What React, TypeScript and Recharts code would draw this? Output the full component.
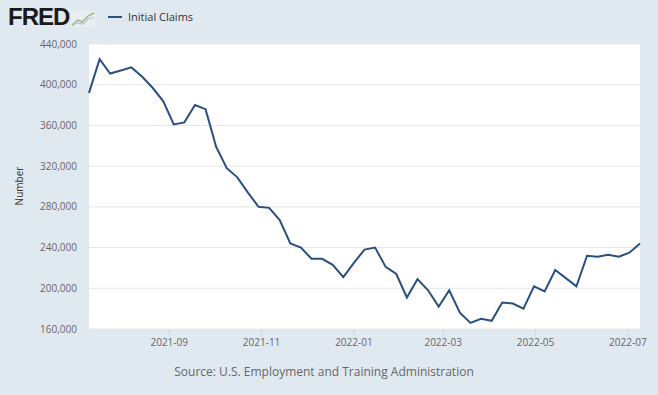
import { CartesianGrid, Line, LineChart, XAxis, YAxis } from "recharts"

// weekly, week ending Saturday
const weeks = [
  "2021-07-10", "2021-07-17", "2021-07-24", "2021-07-31", "2021-08-07", "2021-08-14",
  "2021-08-21", "2021-08-28", "2021-09-04", "2021-09-11", "2021-09-18", "2021-09-25",
  "2021-10-02", "2021-10-09", "2021-10-16", "2021-10-23", "2021-10-30", "2021-11-06",
  "2021-11-13", "2021-11-20", "2021-11-27", "2021-12-04", "2021-12-11", "2021-12-18",
  "2021-12-25", "2022-01-01", "2022-01-08", "2022-01-15", "2022-01-22", "2022-01-29",
  "2022-02-05", "2022-02-12", "2022-02-19", "2022-02-26", "2022-03-05", "2022-03-12",
  "2022-03-19", "2022-03-26", "2022-04-02", "2022-04-09", "2022-04-16", "2022-04-23",
  "2022-04-30", "2022-05-07", "2022-05-14", "2022-05-21", "2022-05-28", "2022-06-04",
  "2022-06-11", "2022-06-18", "2022-06-25", "2022-07-02", "2022-07-09",
]

const claims = [
  392000, 425000, 411000, 414000, 417000, 408000, 397000, 384000, 361000, 363000,
  380000, 376000, 339000, 318000, 309000, 294000, 280000, 279000, 267000, 244000,
  240000, 229000, 229000, 223000, 211000, 225000, 238000, 240000, 221000, 214000,
  191000, 209000, 198000, 182000, 198000, 176000, 166000, 170000, 168000, 186000,
  185000, 180000, 202000, 197000, 218000, 210000, 202000, 232000, 231000, 233000,
  231000, 235000, 244000,
]

const xTicks = ["2021-09-01", "2021-11-01", "2022-01-01", "2022-03-01", "2022-05-01", "2022-07-01"]
const yTicks = [160000, 200000, 240000, 280000, 320000, 360000, 400000, 440000]

const toTime = (d: string) => new Date(d + "T00:00:00Z").getTime()

const data = weeks.map((w, i) => ({ t: toTime(w), value: claims[i] }))

const lineColor = "#2b5080"
const font = "'Open Sans', 'Noto Sans', sans-serif"

const fmtMonth = (t: number) => {
  const d = new Date(t)
  return `${d.getUTCFullYear()}-${String(d.getUTCMonth() + 1).padStart(2, "0")}`
}

function FredLogo() {
  return (
    <div style={{ position: "absolute", left: 8, top: 4, display: "flex", alignItems: "flex-end" }}>
      <span
        style={{
          fontFamily: "'Liberation Sans', Arial, sans-serif",
          fontWeight: 900,
          fontSize: 24,
          letterSpacing: -1,
          color: "#1a1a1a",
          lineHeight: "26px",
        }}
      >
        FRED
      </span>
      <svg width={24} height={16} style={{ marginLeft: 2, marginBottom: 3 }}>
        <rect x={0} y={0} width={24} height={16} fill="#e9eef2" />
        <polyline points="1,14 7,9 11,11 17,5 23,2" fill="none" stroke="#9db88a" strokeWidth={1.5} />
        <polyline points="1,15 6,12 12,13 17,8 23,6" fill="none" stroke="#b9c3cc" strokeWidth={1.2} />
      </svg>
    </div>
  )
}

export default function App() {
  return (
    <div
      style={{
        position: "absolute",
        left: 0,
        top: 0,
        width: 658,
        height: 395,
        background: "#e1e9f0",
        fontFamily: font,
        overflow: "hidden",
      }}
    >
      <FredLogo />
      <div style={{ position: "absolute", left: 108, top: 9, display: "flex", alignItems: "center" }}>
        <div style={{ width: 14, height: 2, background: lineColor }} />
        <span style={{ marginLeft: 6, fontSize: 11, color: "#333" }}>Initial Claims</span>
      </div>
      <div
        style={{
          position: "absolute",
          left: 19,
          top: 186,
          transform: "translate(-50%, -50%) rotate(-90deg)",
          fontSize: 10,
          color: "#333",
          whiteSpace: "nowrap",
        }}
      >
        Number
      </div>
      <div
        style={{
          position: "absolute",
          left: 0,
          width: 648,
          top: 363,
          textAlign: "center",
          fontSize: 12,
          color: "#666",
        }}
      >
        Source: U.S. Employment and Training Administration
      </div>
      <LineChart width={658} height={395} data={data} margin={{ top: 44, right: 18, bottom: 0, left: 1 }}>
        <CartesianGrid vertical={false} stroke="#e6e6e6" fill="#ffffff" />
        <XAxis
          dataKey="t"
          type="number"
          scale="time"
          domain={["dataMin", "dataMax"]}
          ticks={xTicks.map(toTime)}
          tickFormatter={fmtMonth}
          axisLine={false}
          tickLine={{ stroke: "#ccd6eb" }}
          tickSize={8}
          tickMargin={2}
          height={66}
          tick={{ fontSize: 10, fill: "#666", fontFamily: font }}
        />
        <YAxis
          domain={[160000, 440000]}
          ticks={yTicks}
          tickFormatter={(v: number) => v.toLocaleString("en-US")}
          axisLine={false}
          tickLine={false}
          tickSize={6}
          tickMargin={6}
          width={88}
          tick={{ fontSize: 10, fill: "#666", fontFamily: font }}
        />
        <Line
          dataKey="value"
          stroke={lineColor}
          strokeWidth={2}
          dot={false}
          isAnimationActive={false}
        />
      </LineChart>
    </div>
  )
}
